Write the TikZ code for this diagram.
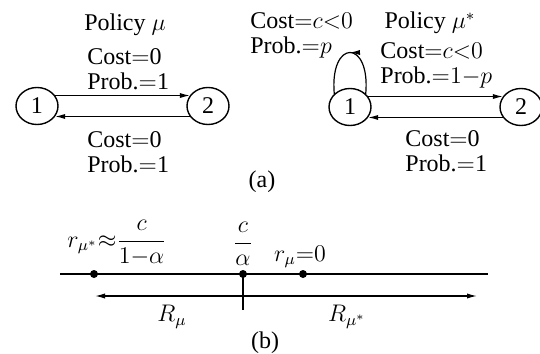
\documentclass[tikz,border=0pt]{standalone}
\usepackage{amsmath}
\usepackage{fontspec}
\setmainfont{Liberation Serif}
\usetikzlibrary{arrows.meta,shapes.geometric,decorations.markings}

\begin{document}
\begin{tikzpicture}[x=0.5pt, y=-0.5pt, font=\fontsize{12}{12.5}\selectfont,
    estado/.style={ellipse, draw, line width=0.7pt, minimum width=21pt, minimum height=18.5pt, inner sep=0pt},
    arr/.style={-{Latex[length=5pt,width=2.6pt]}, line width=0.6pt},
    texto/.style={inner sep=0.5pt},
    etiq/.style={align=left, anchor=west, inner sep=0pt},
    punto/.style={circle, fill, inner sep=0pt, minimum size=4pt}]
    \useasboundingbox (0,0) rectangle (540,353);

    % Politica mu
    \node (l1) [estado] at (37,106) {1};
    \node (l2) [estado] at (208,106) {2};
    \draw[arr] (l1.30) -- (l2.150);
    \draw[arr] (l2.-150) -- (l1.-30);
    \node (lpol) [texto] at (125,25) {Policy $\mu$};
    \node (lsup) [etiq] at (87,69) {Cost$=$0\\Prob.$=$1};
    \node (linf) [etiq] at (87,152) {Cost$=$0\\Prob.$=$1};

    % Politica mu*
    \node (r1) [estado] at (350,107) {1};
    \node (r2) [estado] at (521,107) {2};
    \draw[arr] (r1.30) -- (r2.150);
    \draw[arr] (r2.-150) -- (r1.-30);
    \draw[line width=0.6pt, postaction={decorate},
        decoration={markings, mark=at position 0.5 with {\arrow{Latex[length=5pt,width=2.6pt]}}}]
        (r1.40) to[out=85, in=95, looseness=4.5] (r1.140);
    \node (rpol) [texto] at (430,23) {Policy $\mu^*$};
    \node (rlazo) [etiq] at (250,35) {Cost${=}c{<}0$\\Prob.${=}p$};
    \node (rsup) [etiq] at (380,65) {Cost${=}c{<}0$\\Prob.${=}1{-}p$};
    \node (rinf) [etiq] at (405,151) {Cost$=$0\\Prob.$=$1};
    \node (a) [texto] at (262,182) {(a)};

    % Recta de costes
    \coordinate (izq) at (60,274);
    \coordinate (der) at (488,274);
    \draw[line width=0.6pt] (izq) -- (der);
    \node (p1) [punto] at (94,274) {};
    \node (p2) [punto] at (243,274) {};
    \node (p3) [punto] at (303,274) {};
    \coordinate (tick) at (243,310);
    \draw[line width=0.6pt] (p2.center) -- (tick);
    \coordinate (medio) at (243,296);
    \coordinate (fizq) at (95,296);
    \coordinate (fder) at (477,296);
    \draw[arr] (medio) -- (fizq);
    \draw[arr] (medio) -- (fder);
    \node (e1) [texto] at (117,243) {$r_{\mu^*}{\approx}\dfrac{c}{1{-}\alpha}$};
    \node (e2) [texto] at (243,244) {$\dfrac{c}{\alpha}$};
    \node (e3) [texto] at (300,257) {$r_{\mu}{=}0$};
    \node (rm) [texto] at (172,317) {$R_{\mu}$};
    \node (rms) [texto] at (347,317) {$R_{\mu^*}$};
    \node (b) [texto] at (265,343) {(b)};
\end{tikzpicture}
\end{document}
